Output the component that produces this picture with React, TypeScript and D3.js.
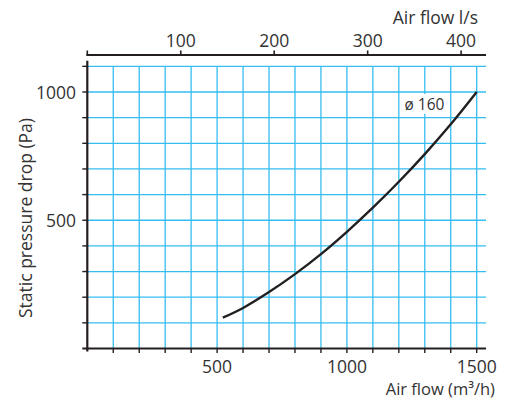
import { useEffect, useRef } from "react";
import * as d3 from "d3";

// air flow (m3/h) vs static pressure drop (Pa)
const flowM3h = [522, 600, 700, 800, 900, 1000, 1100, 1200, 1300, 1400, 1500];
const pressurePa = [120, 158, 220, 290, 368, 455, 549, 650, 758, 874, 1000];

const bottomTicks = [500, 1000, 1500];
const topTicksLs = [100, 200, 300, 400];
const leftTicks = [500, 1000];
const seriesLabel = "ø 160";

const width = 510;
const height = 400;
const gridColor = "#36bdf0";
const ink = "#231f20";
const textInk = "#333";
const font = "'Open Sans', Lato, sans-serif";

export default function App() {
  const svgRef = useRef<SVGSVGElement | null>(null);

  useEffect(() => {
    if (!svgRef.current) return;
    const svg = d3.select(svgRef.current);
    svg.selectAll("*").remove();

    const x = d3.scaleLinear().domain([0, 1500]).range([87.3, 476.7]);
    const y = d3.scaleLinear().domain([0, 1000]).range([348.5, 92]);
    const xLs = d3.scaleLinear().domain([0, 1500 / 3.6]).range([87.3, 476.7]);

    const xMax = 1536; // grid runs a bit past 1500
    const yMax = 1100;
    const left = x(0);
    const right = x(xMax);
    const bottom = y(0);
    const top = y(yMax);
    const topAxisY = 55;

    const rows = flowM3h.map((q, i) => ({ q, p: pressurePa[i] }));

    // grid
    const grid = svg.append("g");
    grid
      .selectAll("line.v")
      .data(d3.range(100, 1501, 100))
      .join("line")
      .attr("x1", (d) => x(d))
      .attr("x2", (d) => x(d))
      .attr("y1", top)
      .attr("y2", bottom)
      .attr("stroke", gridColor)
      .attr("stroke-width", 1.3);
    grid
      .selectAll("line.h")
      .data(d3.range(100, yMax + 1, 100))
      .join("line")
      .attr("x1", left)
      .attr("x2", right)
      .attr("y1", (d) => y(d))
      .attr("y2", (d) => y(d))
      .attr("stroke", gridColor)
      .attr("stroke-width", 1.3);

    // curve
    const line = d3
      .line<(typeof rows)[number]>()
      .x((d) => x(d.q))
      .y((d) => y(d.p))
      .curve(d3.curveCatmullRom.alpha(0.5));
    svg
      .append("path")
      .datum(rows)
      .attr("d", line)
      .attr("fill", "none")
      .attr("stroke", ink)
      .attr("stroke-width", 2.4);

    // series label with white box
    const lx = x(1222);
    const ly = y(930);
    svg
      .append("rect")
      .attr("x", lx - 3)
      .attr("y", ly - 16)
      .attr("width", 47)
      .attr("height", 20)
      .attr("fill", "#fff");
    svg
      .append("text")
      .attr("x", lx)
      .attr("y", ly)
      .attr("font-family", font)
      .attr("font-size", 15.5)
      .attr("fill", textInk)
      .text(seriesLabel);

    // axes
    const axes = svg.append("g").attr("stroke", ink).attr("stroke-width", 2.2);
    axes
      .append("line")
      .attr("x1", left)
      .attr("x2", left)
      .attr("y1", top - 5.5)
      .attr("y2", bottom + 3);
    axes
      .append("line")
      .attr("x1", left - 5)
      .attr("x2", right)
      .attr("y1", bottom)
      .attr("y2", bottom);
    axes
      .append("line")
      .attr("x1", left - 1)
      .attr("x2", right)
      .attr("y1", topAxisY)
      .attr("y2", topAxisY);

    axes
      .selectAll("line.bt")
      .data(d3.range(100, 1501, 100))
      .join("line")
      .attr("stroke-width", 1.4)
      .attr("x1", (d) => x(d))
      .attr("x2", (d) => x(d))
      .attr("y1", bottom)
      .attr("y2", bottom + 4.5);
    axes
      .selectAll("line.lt")
      .data(d3.range(100, yMax + 1, 100))
      .join("line")
      .attr("stroke-width", 1.4)
      .attr("x1", left - 5)
      .attr("x2", left)
      .attr("y1", (d) => y(d))
      .attr("y2", (d) => y(d));
    axes
      .selectAll("line.tt")
      .data([0, ...topTicksLs])
      .join("line")
      .attr("stroke-width", 1.6)
      .attr("x1", (d) => xLs(d))
      .attr("x2", (d) => xLs(d))
      .attr("y1", topAxisY - 4.5)
      .attr("y2", topAxisY);

    const labels = svg
      .append("g")
      .attr("font-family", font)
      .attr("font-size", 17.5)
      .attr("fill", textInk);
    labels
      .selectAll("text.b")
      .data(bottomTicks)
      .join("text")
      .attr("x", (d) => x(d))
      .attr("y", 373)
      .attr("text-anchor", "middle")
      .text((d) => d);
    labels
      .selectAll("text.t")
      .data(topTicksLs)
      .join("text")
      .attr("x", (d) => xLs(d))
      .attr("y", 47)
      .attr("text-anchor", "middle")
      .text((d) => d);
    labels
      .selectAll("text.l")
      .data(leftTicks)
      .join("text")
      .attr("x", 76)
      .attr("y", (d) => y(d) + 6.5)
      .attr("text-anchor", "end")
      .text((d) => d);

    labels
      .append("text")
      .attr("x", 478)
      .attr("y", 23.5)
      .attr("text-anchor", "end")
      .text("Air flow l/s");
    labels
      .append("text")
      .attr("x", 495)
      .attr("y", 395)
      .attr("font-size", 16.5)
      .attr("text-anchor", "end")
      .text("Air flow (m³/h)");
    labels
      .append("text")
      .attr("transform", `translate(32,218) rotate(-90)`)
      .attr("text-anchor", "middle")
      .text("Static pressure drop (Pa)");
  }, []);

  return (
    <svg
      ref={svgRef}
      width={width}
      height={height}
      viewBox={`0 0 ${width} ${height}`}
      style={{ position: "absolute", left: 0, top: 0, background: "#fff" }}
    />
  );
}
